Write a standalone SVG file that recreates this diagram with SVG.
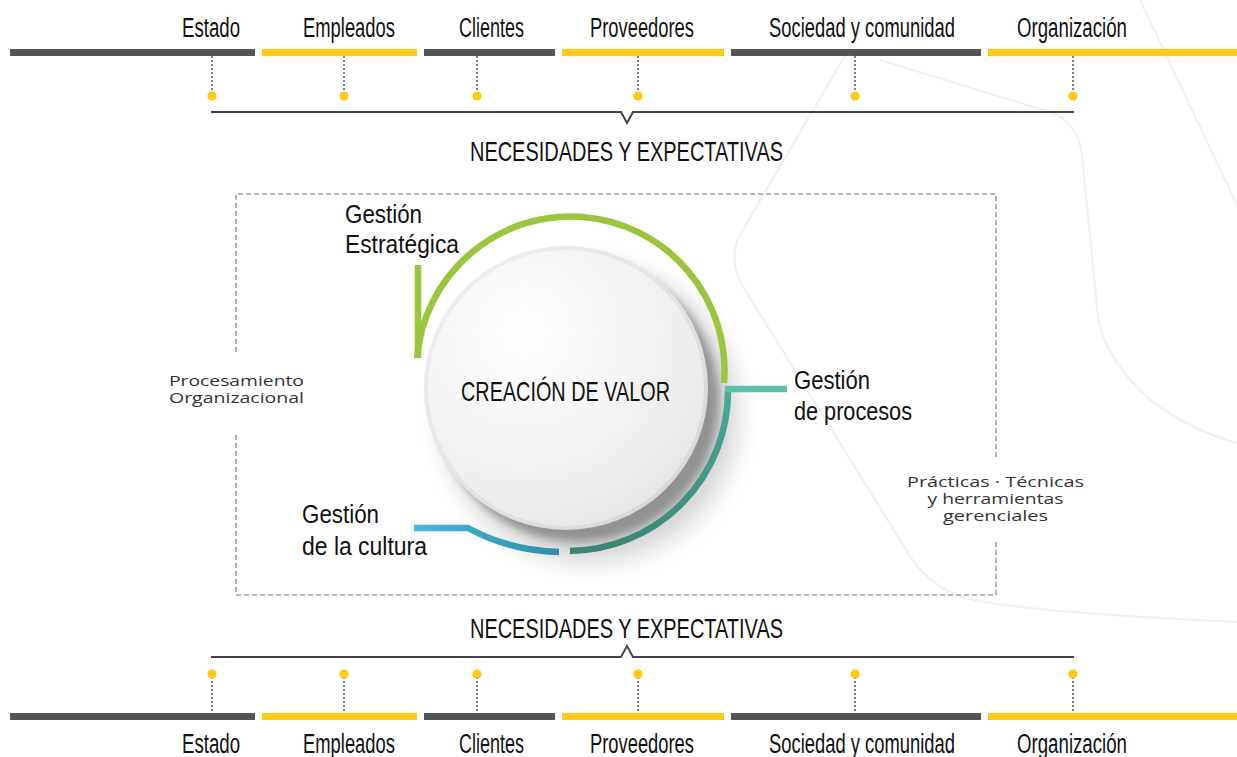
<svg xmlns="http://www.w3.org/2000/svg" width="1237" height="757" viewBox="0 0 1237 757">
<defs>
<style>
.lbl{font-family:"Liberation Sans",Arial,sans-serif;font-size:27px;fill:#111}
.hd{font-family:"Liberation Sans",Arial,sans-serif;font-size:28px;fill:#111}
.g{font-family:"Liberation Sans",Arial,sans-serif;font-size:26px;fill:#111}
.sm{font-family:"Open Sans","Noto Sans",sans-serif;font-size:14px;fill:#333}
.dk{fill:#555555}
.yl{fill:#ffcb14}
.dot{fill:#ffc914}
.vd{stroke:#555;stroke-width:1.5;stroke-dasharray:2 2;fill:none}
.br{stroke:#444;stroke-width:2;fill:none}
.box{stroke:#a0a0a0;stroke-width:1.6;stroke-dasharray:5 3;fill:none}
.bg{stroke:#f0f0f0;stroke-width:2.2;fill:none}
</style>
<radialGradient id="cg" cx="0.35" cy="0.3" r="0.75">
<stop offset="0" stop-color="#ffffff"/>
<stop offset="0.6" stop-color="#f3f3f3"/>
<stop offset="1" stop-color="#e6e6e6"/>
</radialGradient>
<linearGradient id="rim" x1="0" y1="0" x2="1" y2="1">
<stop offset="0" stop-color="#f2f2f2"/>
<stop offset="1" stop-color="#d4d4d4"/>
</linearGradient>
<linearGradient id="tg" x1="0" y1="0" x2="0" y2="1">
<stop offset="0" stop-color="#4cab98"/>
<stop offset="1" stop-color="#3c8574"/>
</linearGradient>
<linearGradient id="blg" x1="0" y1="0" x2="1" y2="0">
<stop offset="0" stop-color="#46b9d6"/>
<stop offset="1" stop-color="#2f8eab"/>
</linearGradient>
<filter id="b1" x="-30%" y="-30%" width="160%" height="160%"><feGaussianBlur stdDeviation="12"/></filter>
<filter id="b2" x="-30%" y="-30%" width="160%" height="160%"><feGaussianBlur stdDeviation="4"/></filter>
</defs>
<rect width="1237" height="757" fill="#ffffff"/>
<g id="background">
<path class="bg" d="M860,30 L740,235 Q728,258 742,285 L905,548 Q925,585 965,598 Q1020,612 1237,622"/>
<path class="bg" d="M880,60 L1050,112 Q1078,122 1082,155 L1098,318 Q1106,360 1150,400 Q1190,430 1237,443"/>
<path class="bg" d="M1140,0 L1237,205"/>
</g>
<g id="top-stakeholders">
<rect class="dk" x="10" y="49" width="245" height="7"/>
<rect class="yl" x="262" y="49" width="155" height="7"/>
<rect class="dk" x="424" y="49" width="131" height="7"/>
<rect class="yl" x="562" y="49" width="162" height="7"/>
<rect class="dk" x="731" y="49" width="250" height="7"/>
<rect class="yl" x="988" y="49" width="249" height="7"/>
<text class="lbl" x="182" y="37" textLength="58" lengthAdjust="spacingAndGlyphs">Estado</text>
<text class="lbl" x="303" y="37" textLength="92" lengthAdjust="spacingAndGlyphs">Empleados</text>
<text class="lbl" x="459" y="37" textLength="65" lengthAdjust="spacingAndGlyphs">Clientes</text>
<text class="lbl" x="590" y="37" textLength="104" lengthAdjust="spacingAndGlyphs">Proveedores</text>
<text class="lbl" transform="translate(769,37) scale(0.681,1)">Sociedad y comunidad</text>
<text class="lbl" x="1017" y="37" textLength="110" lengthAdjust="spacingAndGlyphs">Organización</text>
</g>
<g id="bottom-stakeholders">
<rect class="dk" x="10" y="713" width="245" height="7"/>
<rect class="yl" x="262" y="713" width="155" height="7"/>
<rect class="dk" x="424" y="713" width="131" height="7"/>
<rect class="yl" x="562" y="713" width="162" height="7"/>
<rect class="dk" x="731" y="713" width="250" height="7"/>
<rect class="yl" x="988" y="713" width="249" height="7"/>
<text class="lbl" x="182" y="753" textLength="58" lengthAdjust="spacingAndGlyphs">Estado</text>
<text class="lbl" x="303" y="753" textLength="92" lengthAdjust="spacingAndGlyphs">Empleados</text>
<text class="lbl" x="459" y="753" textLength="65" lengthAdjust="spacingAndGlyphs">Clientes</text>
<text class="lbl" x="590" y="753" textLength="104" lengthAdjust="spacingAndGlyphs">Proveedores</text>
<text class="lbl" transform="translate(769,753) scale(0.681,1)">Sociedad y comunidad</text>
<text class="lbl" x="1017" y="753" textLength="110" lengthAdjust="spacingAndGlyphs">Organización</text>
</g>
<g id="connectors">
<path class="vd" d="M212,56V92M344,56V92M477,56V92M638,56V92M855,56V92M1073,56V92"/>
<path class="vd" d="M212,677V713M344,677V713M477,677V713M638,677V713M855,677V713M1073,677V713"/>
<path class="br" d="M211,112H621L627,123L633,112H1074"/>
<path class="br" d="M211,657H621L627,646L633,657H1074"/>
</g>
<g id="dots">
<circle class="dot" cx="212" cy="96" r="4.6"/><circle class="dot" cx="344" cy="96" r="4.6"/><circle class="dot" cx="477" cy="96" r="4.6"/><circle class="dot" cx="638" cy="96" r="4.6"/><circle class="dot" cx="855" cy="96" r="4.6"/><circle class="dot" cx="1073" cy="96" r="4.6"/>
<circle class="dot" cx="212" cy="674" r="4.6"/><circle class="dot" cx="344" cy="674" r="4.6"/><circle class="dot" cx="477" cy="674" r="4.6"/><circle class="dot" cx="638" cy="674" r="4.6"/><circle class="dot" cx="855" cy="674" r="4.6"/><circle class="dot" cx="1073" cy="674" r="4.6"/>
</g>
<g id="needs-top"><text class="hd" x="470" y="161" textLength="313" lengthAdjust="spacingAndGlyphs">NECESIDADES Y EXPECTATIVAS</text></g>
<g id="needs-bottom"><text class="hd" x="470" y="638" textLength="313" lengthAdjust="spacingAndGlyphs">NECESIDADES Y EXPECTATIVAS</text></g>
<g id="frame">
<path class="box" d="M236,352V194H996V460"/>
<path class="box" d="M236,435V595H996V540"/>
<text class="sm" x="169" y="386" textLength="135" lengthAdjust="spacingAndGlyphs">Procesamiento</text>
<text class="sm" x="169" y="403" textLength="135" lengthAdjust="spacingAndGlyphs">Organizacional</text>
<text class="sm" x="995.5" y="487" text-anchor="middle" textLength="177" lengthAdjust="spacingAndGlyphs">Prácticas · Técnicas</text>
<text class="sm" x="995.5" y="504" text-anchor="middle" textLength="136" lengthAdjust="spacingAndGlyphs">y herramientas</text>
<text class="sm" x="995.5" y="521" text-anchor="middle" textLength="105" lengthAdjust="spacingAndGlyphs">gerenciales</text>
</g>
<g id="shadow">
<circle cx="590" cy="414" r="148" fill="#000" opacity="0.17" filter="url(#b1)"/>
<circle cx="578" cy="401" r="141" fill="#707070" opacity="0.65" filter="url(#b2)"/>
</g>
<g id="gestion-estrategica">
<path d="M418,265V358" stroke="#9bc53d" stroke-width="6.5" fill="none"/>
<path d="M417,358A154,154 0 0 1 724,383" stroke="#9bc53d" stroke-width="6.5" fill="none"/>
<text class="g" x="345" y="223" textLength="77" lengthAdjust="spacingAndGlyphs">Gestión</text>
<text class="g" x="345" y="253" textLength="114" lengthAdjust="spacingAndGlyphs">Estratégica</text>
</g>
<g id="gestion-procesos">
<path d="M728,390A160,160 0 0 1 570,551" stroke="url(#tg)" stroke-width="6.5" fill="none"/>
<path d="M725,389H787" stroke="#5ebfa9" stroke-width="6.5" fill="none"/>
<text class="g" x="794" y="389" textLength="76" lengthAdjust="spacingAndGlyphs">Gestión</text>
<text class="g" x="794" y="420" textLength="118" lengthAdjust="spacingAndGlyphs">de procesos</text>
</g>
<g id="gestion-cultura">
<path d="M414,528H468C490,540 520,551 559,552" stroke="url(#blg)" stroke-width="6.5" fill="none"/>
<text class="g" x="302" y="523" textLength="77" lengthAdjust="spacingAndGlyphs">Gestión</text>
<text class="g" x="302" y="555" textLength="125" lengthAdjust="spacingAndGlyphs">de la cultura</text>
</g>
<g id="creacion-valor">
<circle cx="566" cy="388" r="140" fill="url(#cg)" stroke="url(#rim)" stroke-width="4"/>
<text class="hd" x="461" y="401" textLength="209" lengthAdjust="spacingAndGlyphs">CREACIÓN DE VALOR</text>
</g>
</svg>
